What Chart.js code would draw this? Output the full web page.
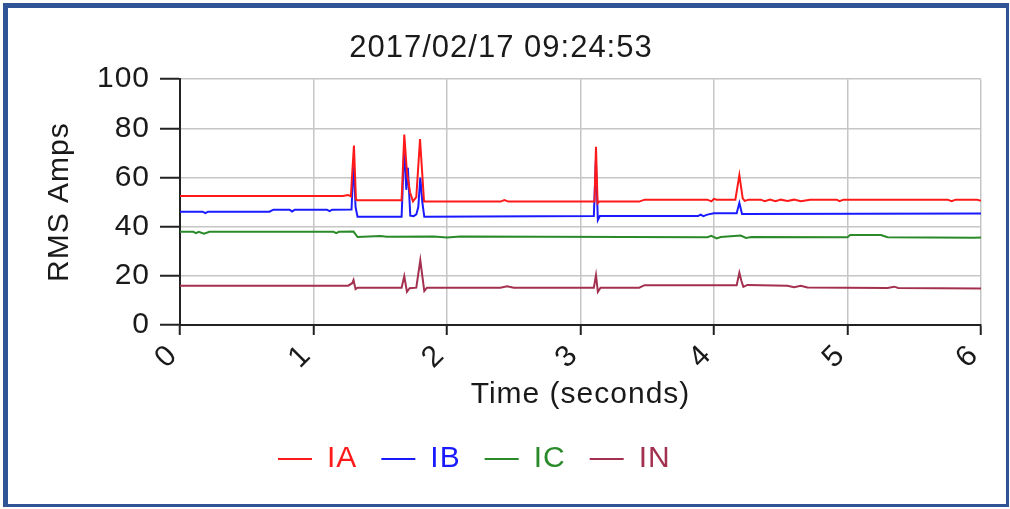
<!DOCTYPE html>
<html>
<head>
<meta charset="utf-8">
<script src="https://cdn.jsdelivr.net/npm/chart.js@4/dist/chart.umd.min.js"></script>
<style>
  html, body { margin: 0; padding: 0; background: #ffffff; overflow: hidden; }
  #wrap { position: relative; width: 1010px; height: 509px; }
  #chart { position: absolute; left: 0; top: 0; }
  #frame {
    position: absolute; left: 3px; top: 3px; right: 1px; bottom: 2px;
    border: 3px solid #2f5597; border-top-width: 5px; border-left-width: 5px;
    pointer-events: none;
  }
</style>
</head>
<body>
<div id="wrap">
  <canvas id="chart" width="1010" height="509"></canvas>
  <div id="frame"></div>
</div>
<script>
// RMS current per phase, sampled in seconds after the trigger
const iaTime = [0, 1.22, 1.26, 1.28, 1.288, 1.303, 1.318, 1.33, 1.66, 1.68, 1.70, 1.723, 1.745, 1.77, 1.798, 1.828, 1.86,
  2.40, 2.43, 2.46, 3.09, 3.105, 3.116, 3.128, 3.14, 3.44, 3.48, 3.95, 3.98, 4.0, 4.02, 4.16, 4.19, 4.215, 4.23, 4.26,
  4.35, 4.38, 4.42, 4.46, 4.50, 4.55, 4.60, 4.65, 4.72, 4.75, 4.92, 4.94, 4.97, 5.75, 5.78, 5.81, 5.97, 6.0];
const iaAmps = [52.5, 52.5, 52.9, 52.3, 60, 73, 51, 50.8, 50.8, 77.5, 62, 54, 50.3, 52, 75.6, 50.2, 50.2,
  50.2, 50.8, 50.2, 50.2, 50.2, 72.5, 49.5, 50.2, 50.2, 51, 51, 50.3, 51.3, 51, 51, 61, 51.5, 50.5, 51,
  51, 50.4, 51, 50.4, 51, 50.5, 51, 50.4, 51, 51, 51, 50.4, 51, 51, 50.4, 51, 51, 50.5];

const ibTime = [0, 0.17, 0.19, 0.21, 0.67, 0.70, 0.82, 0.84, 0.86, 1.10, 1.12, 1.14, 1.285, 1.30, 1.315, 1.33,
  1.66, 1.68, 1.695, 1.707, 1.725, 1.75, 1.77, 1.785, 1.80, 1.815, 1.83, 3.10, 3.115, 3.13, 3.145,
  3.88, 3.90, 3.92, 3.95, 4.0, 4.17, 4.19, 4.21, 6.0];
const ibAmps = [46.1, 46.1, 45.5, 46.1, 46.1, 46.9, 46.9, 46.2, 46.9, 46.9, 46.3, 46.9, 47, 67, 48, 44,
  44, 73, 55, 64, 44.5, 44.3, 45, 48, 60, 50, 44, 44.3, 67, 42.7, 44.3,
  44.3, 44.9, 44.3, 44.9, 45.5, 45.5, 49.7, 45.2, 45.4];

const icTime = [0, 0.10, 0.12, 0.14, 0.18, 0.22, 1.15, 1.17, 1.19, 1.30, 1.33, 1.50, 1.55, 1.90, 2.0, 2.1,
  3.95, 3.98, 4.02, 4.05, 4.20, 4.24, 4.28, 5.0, 5.02, 5.25, 5.30, 5.95, 6.0];
const icAmps = [37.9, 37.9, 37.4, 37.9, 37.1, 37.9, 37.9, 37.4, 37.9, 38, 35.8, 36.2, 35.9, 36, 35.6, 36,
  35.7, 36.3, 35.2, 35.8, 36.4, 35.4, 35.8, 35.7, 36.6, 36.6, 35.7, 35.5, 35.6];

const inTime = [0, 1.26, 1.29, 1.30, 1.315, 1.33, 1.66, 1.68, 1.70, 1.72, 1.77, 1.80, 1.815, 1.83, 1.85,
  2.40, 2.45, 2.50, 3.10, 3.116, 3.13, 3.15, 3.44, 3.48, 4.17, 4.19, 4.205, 4.22, 4.25,
  4.55, 4.60, 4.65, 4.70, 5.30, 5.35, 5.38, 6.0];
const inAmps = [16, 16, 17, 18.3, 14.6, 15.2, 15.2, 19.9, 13.5, 15, 15.2, 26.4, 20, 13.8, 15.2,
  15.2, 15.8, 15.2, 15.2, 20.3, 13.5, 15.2, 15.2, 16.2, 16.2, 21.3, 18, 15.5, 16.3,
  16, 15.4, 16, 15.3, 15.1, 15.6, 15.1, 14.9];

const seriesNames = ['IA', 'IB', 'IC', 'IN'];
const seriesColors = ['#ff1a1a', '#1a1aff', '#2a8a2a', '#a3304f'];

const titleText = '2017/02/17 09:24:53';
const yTitle = 'RMS Amps';
const xTitle = 'Time (seconds)';

const toPoints = (ts, vs) => ts.map((t, i) => ({ x: t, y: vs[i] }));
const seriesData = [toPoints(iaTime, iaAmps), toPoints(ibTime, ibAmps), toPoints(icTime, icAmps), toPoints(inTime, inAmps)];

const FONT = '"Liberation Sans", Arial, Helvetica, sans-serif';
const INK = '#1a1a1a';
const SPACING = '1px';

// slightly wider letter spacing for all canvas text
const spacedText = {
  id: 'spacedText',
  afterInit(chart) { chart.ctx.letterSpacing = SPACING; },
  beforeUpdate(chart) { chart.ctx.letterSpacing = SPACING; },
  beforeDraw(chart) { chart.ctx.letterSpacing = SPACING; }
};

// place the legend row under the plot, starting at a fixed x
const legendPlacement = {
  id: 'legendPlacement',
  afterLayout(chart) {
    const lg = chart.legend;
    const dx = 254 - lg.left;
    lg.left += dx;
    lg.right += dx;
  }
};

new Chart(document.getElementById('chart'), {
  type: 'line',
  data: {
    datasets: seriesData.map((pts, i) => ({
      label: seriesNames[i],
      data: pts,
      borderColor: seriesColors[i],
      backgroundColor: seriesColors[i],
      borderWidth: 2,
      pointRadius: 0,
      tension: 0,
      fill: false
    }))
  },
  options: {
    responsive: false,
    animation: false,
    devicePixelRatio: 1,
    layout: { padding: { left: 21, right: 29, top: 0, bottom: 25 } },
    plugins: {
      title: {
        display: true,
        text: titleText,
        color: INK,
        font: { family: FONT, size: 31, weight: 'normal' },
        padding: { top: 30, bottom: 12 }
      },
      legend: {
        display: true,
        position: 'bottom',
        align: 'start',
        labels: {
          boxWidth: 34,
          boxHeight: 2,
          padding: 24,
          font: { family: FONT, size: 30 },
          generateLabels: (chart) => chart.data.datasets.map((ds, i) => ({
            text: ds.label,
            fillStyle: ds.borderColor,
            strokeStyle: ds.borderColor,
            fontColor: ds.borderColor,
            lineWidth: 0,
            hidden: false,
            datasetIndex: i
          }))
        }
      },
      tooltip: { enabled: false }
    },
    scales: {
      x: {
        type: 'linear',
        min: 0,
        max: 6,
        afterFit: (s) => { s.height = 95; },
        ticks: {
          stepSize: 1,
          minRotation: 45,
          maxRotation: 45,
          padding: 3,
          labelOffset: -7,
          color: INK,
          font: { family: FONT, size: 30 }
        },
        grid: { color: '#c6c6c6', lineWidth: 1.5, tickLength: 10, tickColor: '#222', tickWidth: 2 },
        border: { color: '#222', width: 2 },
        title: {
          display: true,
          text: xTitle,
          color: INK,
          font: { family: FONT, size: 30 },
          padding: { top: 0, bottom: 7 }
        }
      },
      y: {
        min: 0,
        max: 100,
        afterFit: (s) => { s.width = 159; },
        ticks: {
          stepSize: 20,
          padding: 10,
          color: INK,
          font: { family: FONT, size: 30 }
        },
        grid: { color: '#c6c6c6', lineWidth: 1.5, tickLength: 20, tickColor: '#222', tickWidth: 2 },
        border: { color: '#222', width: 2 },
        title: {
          display: true,
          text: yTitle,
          color: INK,
          font: { family: FONT, size: 30 },
          padding: { top: 21, bottom: 0 }
        }
      }
    }
  },
  plugins: [spacedText, legendPlacement]
});
</script>
</body>
</html>
